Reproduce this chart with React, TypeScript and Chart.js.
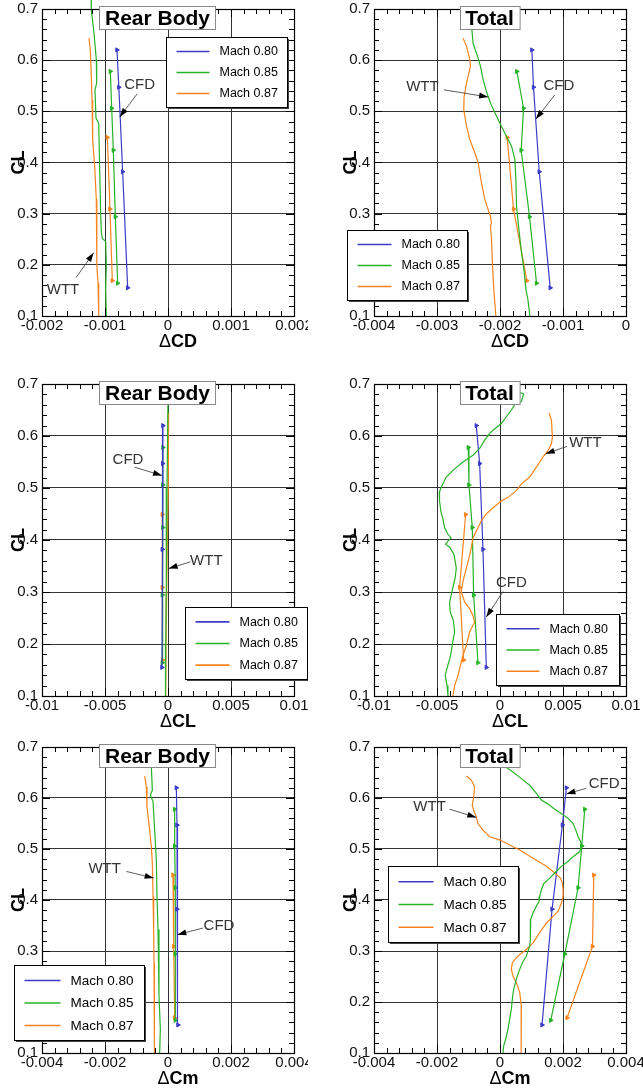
import React, { useEffect, useRef } from 'react';
import { Chart, registerables } from 'chart.js';
Chart.register(...registerables);

const FONT = '"Liberation Sans", Arial, Helvetica, sans-serif';
const COLORS = ['#3c3cc8', '#27b327', '#f5841f'];
const seriesLabels = ['Mach 0.80', 'Mach 0.85', 'Mach 0.87'];

// ---- shared CL values of CFD points
const cfdCL80 = [0.62, 0.547, 0.382, 0.155];
const cfdCL85 = [0.578, 0.506, 0.424, 0.294, 0.164];
const cfdCL87 = [0.449, 0.309, 0.169];

// ---- tick labels
const clTicks = [0.1, 0.2, 0.3, 0.4, 0.5, 0.6, 0.7];
const rbCDTicks = [-0.002, -0.001, 0, 0.001, 0.002];
const totCDTicks = [-0.004, -0.003, -0.002, -0.001, 0];
const clDeltaTicks = [-0.01, -0.005, 0, 0.005, 0.01];
const cmTicks = [-0.004, -0.002, 0, 0.002, 0.004];

// ---- Panel 1: Rear Body, dCD
const rbCD_cfd80 = [-0.00081, -0.00078, -0.00072, -0.00064];
const rbCD_cfd85 = [-0.000915, -0.000894, -0.000868, -0.000836, -0.000799];
const rbCD_cfd87 = [-0.000963, -0.000921, -0.000884];
const rbCD_wtt85_cl = [0.718, 0.698, 0.653, 0.601, 0.555, 0.542, 0.487, 0.477, 0.393, 0.302, 0.263, 0.251, 0.246, 0.198, 0.152, 0.1];
const rbCD_wtt85_d = [-0.00122, -0.001217, -0.001175, -0.001138, -0.001132, -0.001159, -0.001143, -0.0011, -0.001085, -0.001069, -0.001058, -0.001042, -0.000989, -0.000979, -0.000989, -0.000979];
const rbCD_wtt87_cl = [0.643, 0.62, 0.568, 0.522, 0.445, 0.393, 0.328, 0.263, 0.198, 0.165, 0.1];
const rbCD_wtt87_d = [-0.001254, -0.001233, -0.001217, -0.001206, -0.001196, -0.001164, -0.001138, -0.001132, -0.001127, -0.001111, -0.0011];

// ---- Panel 2: Total, dCD
const totCD_cfd80 = [-0.001494, -0.001468, -0.001377, -0.001203];
const totCD_cfd85 = [-0.001732, -0.001626, -0.001664, -0.001531, -0.00142];
const totCD_cfd87 = [-0.001886, -0.001785, -0.001573];
const totCD_wtt85_cl = [0.7, 0.662, 0.633, 0.604, 0.588, 0.562, 0.539, 0.529, 0.516, 0.497, 0.477, 0.451, 0.432, 0.406, 0.367, 0.315, 0.263, 0.224, 0.191, 0.152, 0.133, 0.1];
const totCD_wtt85_d = [-0.002458, -0.002448, -0.002427, -0.002347, -0.00231, -0.002268, -0.002215, -0.002188, -0.002151, -0.002082, -0.002003, -0.001897, -0.001817, -0.001764, -0.001748, -0.001738, -0.001695, -0.001658, -0.001621, -0.001589, -0.001558, -0.001526];
const totCD_wtt87_cl = [0.643, 0.627, 0.601, 0.588, 0.555, 0.529, 0.503, 0.471, 0.445, 0.419, 0.399, 0.38, 0.36, 0.328, 0.308, 0.295, 0.282, 0.276, 0.25, 0.198, 0.152, 0.1];
const totCD_wtt87_d = [-0.002585, -0.002532, -0.002479, -0.002469, -0.002532, -0.00257, -0.002575, -0.002532, -0.002479, -0.0024, -0.002347, -0.002321, -0.002294, -0.002241, -0.002188, -0.002151, -0.002135, -0.002151, -0.002135, -0.002119, -0.002098, -0.002066];

// ---- Panel 3: Rear Body, dCL
const rbCL_cfd80 = [-0.0004, -0.00042, -0.00045, -0.00048];
const rbCL_cfd85 = [-0.0004, -0.00041, -0.00041, -0.00045, -0.00045];
const rbCL_cfd87 = [-0.00045, -0.00045, -0.00043];
const rbCL_wtt85_cl = [0.68, 0.6, 0.5, 0.4, 0.3, 0.2, 0.1];
const rbCL_wtt85_d = [0.0, -0.00003, -0.00008, -0.00012, -0.00015, -0.00018, -0.0002];
const rbCL_wtt87_cl = [0.644, 0.6, 0.5, 0.4, 0.3, 0.2, 0.1];
const rbCL_wtt87_d = [0.00005, 0.00004, 0.0, -0.00005, -0.0001, -0.00015, -0.00018];

// ---- Panel 4: Total, dCL
const totCL_cfd80 = [-0.001881, -0.001616, -0.001351, -0.001086];
const totCL_cfd85 = [-0.002517, -0.002464, -0.002199, -0.002093, -0.001748];
const totCL_cfd87 = [-0.002728, -0.003205, -0.002887];
const totCL_wtt85_cl = [0.684, 0.681, 0.666, 0.66, 0.65, 0.637, 0.624, 0.611, 0.605, 0.592, 0.576, 0.563, 0.55, 0.534, 0.521, 0.505, 0.492, 0.475, 0.455, 0.44, 0.424, 0.411, 0.404, 0.398, 0.392, 0.386, 0.372, 0.346, 0.327, 0.3, 0.28, 0.262, 0.245, 0.223, 0.204, 0.178, 0.158, 0.14, 0.12, 0.1];
const totCL_wtt85_d = [0.00151, 0.00188, 0.0017, 0.001166, 0.0009, 0.000503, 0.000106, -0.000556, -0.000821, -0.001219, -0.001616, -0.002146, -0.00294, -0.003735, -0.004265, -0.0046, -0.00482, -0.0048, -0.00469, -0.00453, -0.0044, -0.00413, -0.00388, -0.00413, -0.00432, -0.00399, -0.00365, -0.00347, -0.00356, -0.00382, -0.004, -0.00395, -0.0037, -0.0036, -0.00375, -0.00392, -0.00415, -0.00435, -0.0042, -0.00413];
const totCL_wtt87_cl = [0.644, 0.631, 0.598, 0.585, 0.572, 0.56, 0.54, 0.521, 0.508, 0.495, 0.482, 0.475, 0.462, 0.45, 0.437, 0.417, 0.404, 0.385, 0.365, 0.346, 0.333, 0.32, 0.301, 0.281, 0.268, 0.255, 0.242, 0.223, 0.197, 0.178, 0.165, 0.139, 0.12, 0.1];
const totCL_wtt87_d = [0.003894, 0.00408, 0.004159, 0.00408, 0.003815, 0.003417, 0.002887, 0.002358, 0.001695, 0.001298, 0.000636, 0.000106, -0.000556, -0.001086, -0.001483, -0.001881, -0.002146, -0.002278, -0.002464, -0.002675, -0.002808, -0.00294, -0.003073, -0.002808, -0.002411, -0.002146, -0.002013, -0.002411, -0.002675, -0.00294, -0.003073, -0.003338, -0.003603, -0.003735];

// ---- Panel 5: Rear Body, dCm
const rbCm_cfd80 = [0.000265, 0.000286, 0.000286, 0.000317];
const rbCm_cfd85 = [0.000212, 0.000212, 0.000233, 0.000233, 0.000233];
const rbCm_cfd87 = [0.000159, 0.00018, 0.000212];
const rbCm_wtt85_cl = [0.68, 0.661, 0.615, 0.606, 0.593, 0.537, 0.479, 0.407, 0.342, 0.277, 0.212, 0.147, 0.1];
const rbCm_wtt85_d = [-0.00054, -0.000529, -0.000497, -0.000561, -0.000476, -0.000423, -0.00037, -0.000349, -0.000317, -0.000286, -0.000286, -0.000243, -0.000265];
const rbCm_wtt87_cl = [0.643, 0.622, 0.583, 0.537, 0.505, 0.472, 0.407, 0.342, 0.277, 0.212, 0.147, 0.1];
const rbCm_wtt87_d = [-0.000741, -0.000688, -0.000667, -0.000582, -0.000529, -0.000497, -0.000476, -0.000455, -0.000444, -0.000444, -0.000434, -0.000413];

// ---- Panel 6: Total, dCm
const totCm_cfd80 = [0.002109, 0.001981, 0.001653, 0.001335];
const totCm_cfd85 = [0.002691, 0.002596, 0.00248, 0.002056, 0.001611];
const totCm_cfd87 = [0.002977, 0.002935, 0.00213];
const totCm_wtt85_cl = [0.68, 0.66, 0.651, 0.638, 0.625, 0.609, 0.596, 0.588, 0.578, 0.567, 0.56, 0.55, 0.537, 0.524, 0.511, 0.495, 0.485, 0.476, 0.466, 0.453, 0.443, 0.432, 0.42, 0.407, 0.397, 0.388, 0.375, 0.362, 0.342, 0.323, 0.31, 0.29, 0.277, 0.264, 0.245, 0.225, 0.206, 0.186, 0.167, 0.147, 0.127, 0.114, 0.1];
const totCm_wtt85_d = [0.00005, 0.000201, 0.000413, 0.000678, 0.000943, 0.001155, 0.001314, 0.001526, 0.001738, 0.002003, 0.002162, 0.002321, 0.002405, 0.00248, 0.002585, 0.002532, 0.002321, 0.002162, 0.00195, 0.001738, 0.001579, 0.001388, 0.001314, 0.001261, 0.00124, 0.001155, 0.001049, 0.000975, 0.000964, 0.000964, 0.000943, 0.000837, 0.00071, 0.000625, 0.000519, 0.000434, 0.000392, 0.00036, 0.000307, 0.000254, 0.00018, 0.000117, 0.000095];
const totCm_wtt87_cl = [0.643, 0.635, 0.622, 0.602, 0.586, 0.576, 0.563, 0.55, 0.537, 0.524, 0.518, 0.508, 0.498, 0.482, 0.466, 0.453, 0.443, 0.433, 0.42, 0.407, 0.394, 0.378, 0.368, 0.355, 0.336, 0.316, 0.303, 0.293, 0.287, 0.277, 0.264, 0.251, 0.238, 0.219, 0.193, 0.16, 0.127, 0.1];
const totCm_wtt87_d = [-0.00107, -0.000911, -0.000805, -0.000837, -0.00088, -0.000837, -0.000752, -0.000699, -0.00054, -0.000328, -0.00001, 0.000307, 0.000625, 0.001049, 0.001473, 0.001738, 0.001918, 0.001981, 0.002003, 0.002003, 0.00195, 0.001844, 0.001685, 0.001473, 0.001261, 0.001049, 0.000837, 0.000625, 0.000519, 0.000392, 0.00036, 0.000413, 0.000519, 0.000625, 0.000678, 0.000678, 0.000668, 0.000668];

type Note = { text: string; tx: number; ty: number; ax: number; ay: number; bx: number; by: number };
type Panel = {
  key: string; row: number; col: number; title: string; xTitle: string;
  xTicks: number[]; cfd: number[][]; wtt: number[][][];
  legend: { x: number; y: number; w: number; h: number; font: number; line: number };
  notes: Note[];
};

const panels: Panel[] = [
  {
    key: 'p1', row: 0, col: 0, title: 'Rear Body', xTitle: 'CD', xTicks: rbCDTicks,
    cfd: [rbCD_cfd80, rbCD_cfd85, rbCD_cfd87],
    wtt: [[rbCD_wtt85_d, rbCD_wtt85_cl], [rbCD_wtt87_d, rbCD_wtt87_cl]],
    legend: { x: 124, y: 28, w: 121, h: 70, font: 12.5, line: 33 },
    notes: [
      { text: 'CFD', tx: -0.00045, ty: 0.551, ax: -0.00049, ay: 0.534, bx: -0.000767, by: 0.489 },
      { text: 'WTT', tx: -0.001667, ty: 0.152, ax: -0.00146, ay: 0.175, bx: -0.00118, by: 0.2235 },
    ],
  },
  {
    key: 'p2', row: 0, col: 1, title: 'Total', xTitle: 'CD', xTicks: totCDTicks,
    cfd: [totCD_cfd80, totCD_cfd85, totCD_cfd87],
    wtt: [[totCD_wtt85_d, totCD_wtt85_cl], [totCD_wtt87_d, totCD_wtt87_cl]],
    legend: { x: -27, y: 221, w: 120, h: 70, font: 12.5, line: 34 },
    notes: [
      { text: 'WTT', tx: -0.003232, ty: 0.547, ax: -0.00289, ay: 0.542, bx: -0.002188, by: 0.528 },
      { text: 'CFD', tx: -0.001065, ty: 0.55, ax: -0.00113, ay: 0.532, bx: -0.00143, by: 0.485 },
    ],
  },
  {
    key: 'p3', row: 1, col: 0, title: 'Rear Body', xTitle: 'CL', xTicks: clDeltaTicks,
    cfd: [rbCL_cfd80, rbCL_cfd85, rbCL_cfd87],
    wtt: [[rbCL_wtt85_d, rbCL_wtt85_cl], [rbCL_wtt87_d, rbCL_wtt87_cl]],
    legend: { x: 143, y: 223, w: 122, h: 72, font: 12.5, line: 34 },
    notes: [
      { text: 'CFD', tx: -0.003175, ty: 0.555, ax: -0.00265, ay: 0.54, bx: -0.000476, by: 0.524 },
      { text: 'WTT', tx: 0.003042, ty: 0.36, ax: 0.00177, ay: 0.358, bx: 0.00005, by: 0.345 },
    ],
  },
  {
    key: 'p4', row: 1, col: 1, title: 'Total', xTitle: 'CL', xTicks: clDeltaTicks,
    cfd: [totCL_cfd80, totCL_cfd85, totCL_cfd87],
    wtt: [[totCL_wtt85_d, totCL_wtt85_cl], [totCL_wtt87_d, totCL_wtt87_cl]],
    legend: { x: 122, y: 230, w: 123, h: 71, font: 12.5, line: 33 },
    notes: [
      { text: 'WTT', tx: 0.006781, ty: 0.587, ax: 0.005325, ay: 0.58, bx: 0.003629, by: 0.566 },
      { text: 'CFD', tx: 0.0009, ty: 0.317, ax: 0.00024, ay: 0.301, bx: -0.001086, by: 0.252 },
    ],
  },
  {
    key: 'p5', row: 2, col: 0, title: 'Rear Body', xTitle: 'Cm', xTicks: cmTicks,
    cfd: [rbCm_cfd80, rbCm_cfd85, rbCm_cfd87],
    wtt: [[rbCm_wtt85_d, rbCm_wtt85_cl], [rbCm_wtt87_d, rbCm_wtt87_cl]],
    legend: { x: -28, y: 218, w: 130, h: 75, font: 13.5, line: 36 },
    notes: [
      { text: 'WTT', tx: -0.002011, ty: 0.461, ax: -0.00132, ay: 0.456, bx: -0.000455, by: 0.443 },
      { text: 'CFD', tx: 0.001619, ty: 0.35, ax: 0.00111, ay: 0.345, bx: 0.000296, by: 0.332 },
    ],
  },
  {
    key: 'p6', row: 2, col: 1, title: 'Total', xTitle: 'Cm', xTicks: cmTicks,
    cfd: [totCm_cfd80, totCm_cfd85, totCm_cfd87],
    wtt: [[totCm_wtt85_d, totCm_wtt85_cl], [totCm_wtt87_d, totCm_wtt87_cl]],
    legend: { x: 14, y: 119, w: 130, h: 76, font: 13.5, line: 35 },
    notes: [
      { text: 'CFD', tx: 0.003306, ty: 0.628, ax: 0.00274, ay: 0.619, bx: 0.002109, by: 0.608 },
      { text: 'WTT', tx: -0.002236, ty: 0.582, ax: -0.0016, ay: 0.578, bx: -0.000752, by: 0.562 },
    ],
  },
];

const cfdCLs = [cfdCL80, cfdCL85, cfdCL87];

// canvas geometry per row / column
const ROWS = [
  { top: 0, height: 360, padTop: 9, axisH: 44 },
  { top: 360, height: 370, padTop: 24, axisH: 34 },
  { top: 730, height: 360, padTop: 17, axisH: 37 },
];
const COLS = [
  { left: 0, width: 308, yW: 42, padR: 14 },
  { left: 320, width: 323, yW: 54, padR: 17 },
];

function makeDecor(p: Panel) {
  return {
    id: 'decor_' + p.key,
    afterDraw(chart: any) {
      const ctx: CanvasRenderingContext2D = chart.ctx;
      const a = chart.chartArea;
      const xs = chart.scales.x;
      const ys = chart.scales.y;
      ctx.save();
      const ln = (x1: number, y1: number, x2: number, y2: number) => {
        ctx.beginPath(); ctx.moveTo(x1, y1); ctx.lineTo(x2, y2); ctx.stroke();
      };
      // minor ticks
      ctx.strokeStyle = '#000';
      ctx.lineWidth = 1;
      const xt = p.xTicks;
      const xStep = (xt[1] - xt[0]) / 5;
      const nX = Math.round((xt[xt.length - 1] - xt[0]) / xStep);
      for (let k = 0; k <= nX; k++) {
        const px = Math.round(xs.getPixelForValue(xt[0] + k * xStep)) + 0.5;
        const L = k % 5 === 0 ? 8 : 5;
        ln(px, a.bottom, px, a.bottom - L);
        ln(px, a.top, px, a.top + L);
      }
      const yStep = (clTicks[1] - clTicks[0]) / 5;
      const nY = Math.round((clTicks[clTicks.length - 1] - clTicks[0]) / yStep);
      for (let k = 0; k <= nY; k++) {
        const py = Math.round(ys.getPixelForValue(clTicks[0] + k * yStep)) + 0.5;
        const L = k % 5 === 0 ? 8 : 5;
        ln(a.left, py, a.left + L, py);
        ln(a.right, py, a.right - L, py);
      }
      // frame
      ctx.lineWidth = 1.2;
      ctx.strokeRect(Math.round(a.left) + 0.5, Math.round(a.top) + 0.5, Math.round(a.right - a.left), Math.round(a.bottom - a.top));

      // annotations
      ctx.font = `15px ${FONT}`;
      ctx.textAlign = 'center';
      ctx.textBaseline = 'middle';
      for (const n of p.notes) {
        const tx = xs.getPixelForValue(n.tx), ty = ys.getPixelForValue(n.ty);
        const ax = xs.getPixelForValue(n.ax), ay = ys.getPixelForValue(n.ay);
        const bx = xs.getPixelForValue(n.bx), by = ys.getPixelForValue(n.by);
        ctx.fillStyle = '#333';
        ctx.fillText(n.text, tx, ty);
        ctx.strokeStyle = '#333';
        ctx.lineWidth = 0.8;
        ln(ax, ay, bx, by);
        const ang = Math.atan2(by - ay, bx - ax);
        const hl = 9, hw = 3;
        ctx.fillStyle = '#000';
        ctx.beginPath();
        ctx.moveTo(bx, by);
        ctx.lineTo(bx - hl * Math.cos(ang) + hw * Math.sin(ang), by - hl * Math.sin(ang) - hw * Math.cos(ang));
        ctx.lineTo(bx - hl * Math.cos(ang) - hw * Math.sin(ang), by - hl * Math.sin(ang) + hw * Math.cos(ang));
        ctx.closePath();
        ctx.fill();
      }

      // legend
      const lg = p.legend;
      const lx = Math.round(a.left + lg.x) + 0.5, ly = Math.round(a.top + lg.y) + 0.5;
      ctx.fillStyle = '#444';
      ctx.fillRect(lx + 1.5, ly + 1.5, lg.w, lg.h);
      ctx.fillStyle = '#fff';
      ctx.fillRect(lx, ly, lg.w, lg.h);
      ctx.strokeStyle = '#000';
      ctx.lineWidth = 1;
      ctx.strokeRect(lx, ly, lg.w, lg.h);
      ctx.font = `${lg.font}px ${FONT}`;
      ctx.textAlign = 'left';
      ctx.textBaseline = 'middle';
      const rowsY = [0.2, 0.5, 0.8];
      for (let i = 0; i < 3; i++) {
        const ry = ly + lg.h * rowsY[i];
        ctx.strokeStyle = COLORS[i];
        ctx.lineWidth = 1.6;
        ln(lx + 10, ry, lx + 10 + lg.line, ry);
        ctx.fillStyle = '#000';
        ctx.fillText(seriesLabels[i], lx + 10 + lg.line + 10, ry + 0.5);
      }

      // title box
      ctx.font = `bold 21px ${FONT}`;
      const tw = ctx.measureText(p.title).width;
      const cx = (a.left + a.right) / 2 - 10.5;
      const bw = tw + 11, bh = 23;
      const bx0 = Math.round(cx - bw / 2) + 0.5, by0 = Math.round(a.top - 3) + 0.5;
      ctx.fillStyle = '#fff';
      ctx.fillRect(bx0, by0, bw, bh);
      ctx.strokeStyle = '#888';
      ctx.lineWidth = 1;
      ctx.strokeRect(bx0, by0, bw, bh);
      ctx.fillStyle = '#000';
      ctx.textAlign = 'center';
      ctx.textBaseline = 'middle';
      ctx.fillText(p.title, cx, by0 + bh / 2 + 1);

      // x axis title: regular delta + bold rest
      const fD = `18px ${FONT}`, fB = `bold 18px ${FONT}`;
      ctx.font = fD; const wD = ctx.measureText('\u0394').width;
      ctx.font = fB; const wR = ctx.measureText(p.xTitle).width;
      const xc = (a.left + a.right) / 2 + 10;
      const x0 = xc - (wD + wR) / 2;
      const yT = a.bottom + 26;
      ctx.textAlign = 'left';
      ctx.fillStyle = '#000';
      ctx.font = fD; ctx.fillText('\u0394', x0, yT);
      ctx.font = fB; ctx.fillText(p.xTitle, x0 + wD, yT);

      // y axis title
      ctx.save();
      ctx.translate(a.left - 24, (a.top + a.bottom) / 2);
      ctx.rotate(-Math.PI / 2);
      ctx.font = fB;
      ctx.textAlign = 'center';
      ctx.textBaseline = 'middle';
      ctx.fillText('CL', 0, 1);
      ctx.restore();

      ctx.restore();
    },
  };
}

function buildConfig(p: Panel): any {
  const row = ROWS[p.row], col = COLS[p.col];
  const datasets: any[] = [];
  p.wtt.forEach((s, i) => {
    datasets.push({
      label: 'WTT ' + seriesLabels[i + 1],
      data: s[0].map((d, k) => ({ x: d, y: s[1][k] })),
      showLine: true,
      borderColor: COLORS[i + 1],
      borderWidth: 1.2,
      pointRadius: 0,
      tension: 0,
      clip: false,
    });
  });
  p.cfd.forEach((d, i) => {
    datasets.push({
      label: seriesLabels[i],
      data: d.map((v, k) => ({ x: v, y: cfdCLs[i][k] })),
      showLine: true,
      borderColor: COLORS[i],
      backgroundColor: COLORS[i],
      borderWidth: 1.2,
      pointStyle: 'triangle',
      rotation: 90,
      pointRadius: 2.4,
      pointBorderWidth: 1,
      tension: 0,
      clip: false,
    });
  });
  const xt = p.xTicks;
  return {
    type: 'scatter',
    data: { datasets },
    options: {
      responsive: false,
      animation: false,
      devicePixelRatio: 1,
      layout: { autoPadding: false, padding: { left: 0, right: col.padR, top: row.padTop, bottom: 0 } },
      plugins: { legend: { display: false }, tooltip: { enabled: false }, title: { display: false } },
      scales: {
        x: {
          type: 'linear',
          min: xt[0],
          max: xt[xt.length - 1],
          afterBuildTicks: (s: any) => { s.ticks = xt.map((v) => ({ value: v })); },
          afterFit: (s: any) => { s.height = row.axisH; s.paddingLeft = 0; s.paddingRight = 0; s.paddingTop = 0; s.paddingBottom = 0; },
          ticks: {
            autoSkip: false, maxRotation: 0, padding: 1, color: '#111',
            font: { family: FONT, size: 15 },
            callback: (v: number) => String(v),
          },
          grid: { color: '#333', lineWidth: 1, drawTicks: false },
          border: { display: true, color: '#000', width: 1 },
        },
        y: {
          type: 'linear',
          min: clTicks[0],
          max: clTicks[clTicks.length - 1],
          afterBuildTicks: (s: any) => { s.ticks = clTicks.map((v) => ({ value: v })); },
          afterFit: (s: any) => { s.width = col.yW; s.paddingLeft = 0; s.paddingRight = 0; s.paddingTop = 0; s.paddingBottom = 0; },
          ticks: {
            autoSkip: false, padding: 4, color: '#111',
            font: { family: FONT, size: 15 },
            callback: (v: number) => String(v),
          },
          grid: { color: '#333', lineWidth: 1, drawTicks: false },
          border: { display: true, color: '#000', width: 1 },
        },
      },
    },
    plugins: [makeDecor(p)],
  };
}

function PanelChart({ p }: { p: Panel }) {
  const ref = useRef<HTMLCanvasElement>(null);
  const row = ROWS[p.row], col = COLS[p.col];
  useEffect(() => {
    const chart = new Chart(ref.current as HTMLCanvasElement, buildConfig(p));
    return () => chart.destroy();
  }, [p]);
  return (
    <canvas
      ref={ref}
      width={col.width}
      height={row.height}
      style={{ position: 'absolute', left: col.left, top: row.top, width: col.width, height: row.height }}
    />
  );
}

export default function App() {
  return (
    <div style={{ position: 'absolute', left: 0, top: 0, width: 643, height: 1090, background: '#fff', overflow: 'hidden' }}>
      {panels.map((p) => (
        <PanelChart key={p.key} p={p} />
      ))}
    </div>
  );
}
